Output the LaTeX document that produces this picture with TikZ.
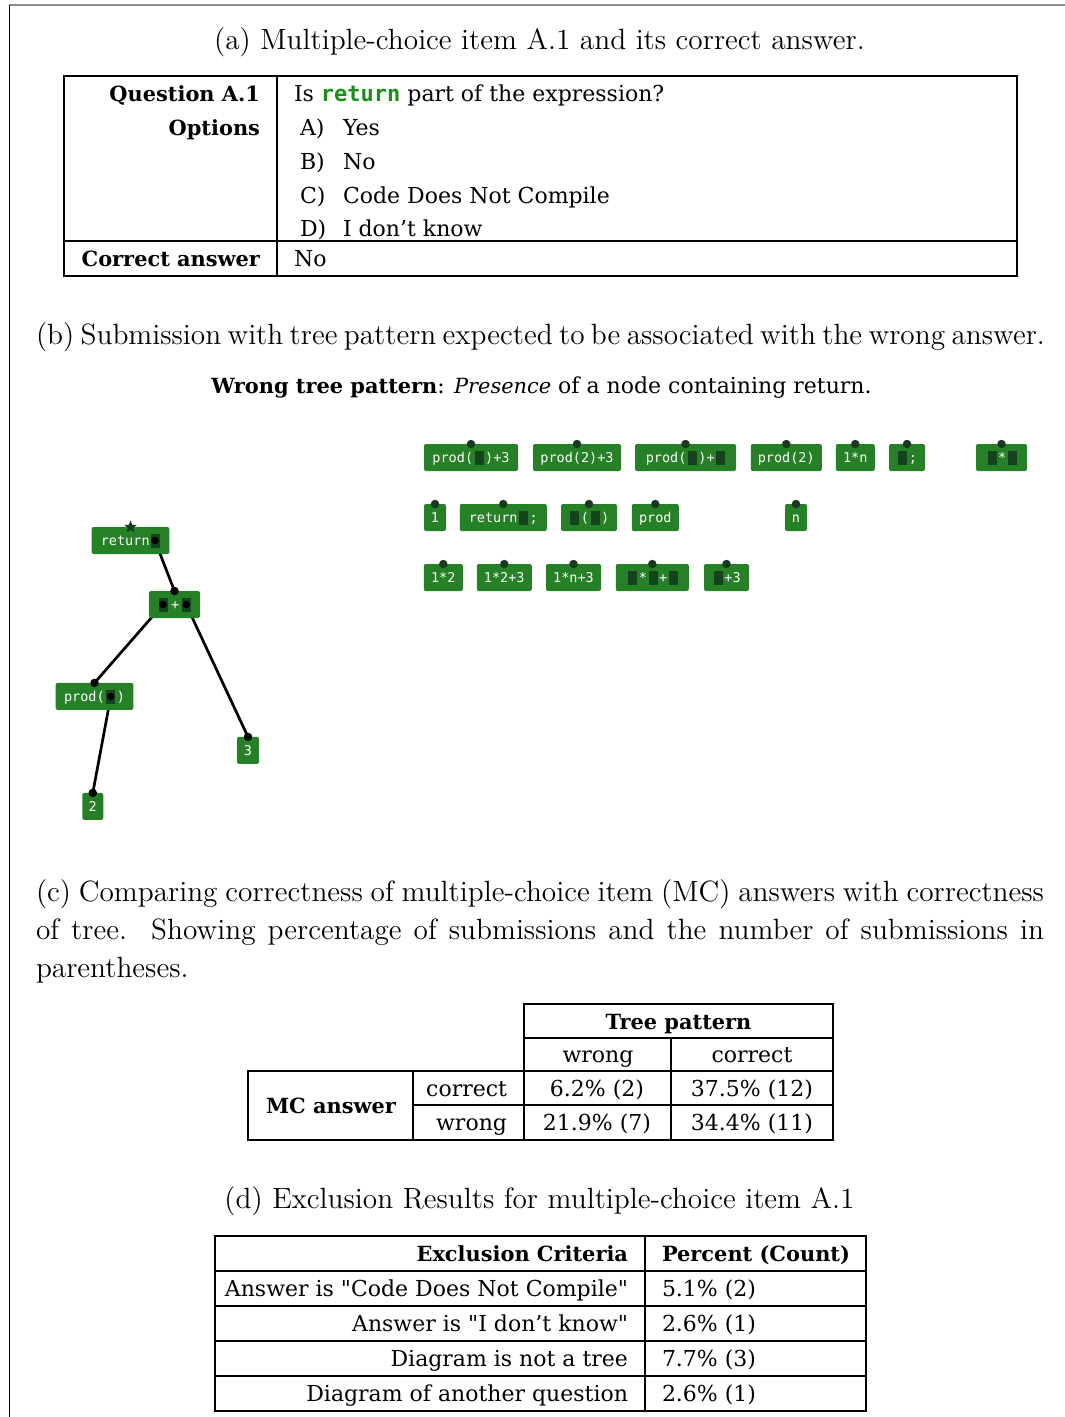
\documentclass[tikz,border=0pt]{standalone}
\usepackage{fontspec}
\setmainfont{DejaVu Serif}[BoldFeatures={Scale=0.95},ItalicFeatures={Scale=0.95}]
\newfontfamily\capfont{lmroman12-regular}[Extension=.otf]
\newfontfamily\codefont{DejaVu Sans Mono}
\usetikzlibrary{shapes.geometric}
\definecolor{blockgreen}{RGB}{38,129,38}
\definecolor{holegreen}{RGB}{21,66,31}
\definecolor{pindark}{RGB}{24,58,32}
\definecolor{kwgreen}{RGB}{22,145,22}
\definecolor{framegray}{RGB}{140,140,140}
\pgfdeclarelayer{background}
\pgfsetlayers{background,main}
% an empty slot inside a code block
\newcommand\codehole{\hspace{1.5pt}{\color{holegreen}\rule[-2.5pt]{9pt}{14pt}}\hspace{1.5pt}}
\begin{document}
\begin{tikzpicture}[x=1pt,y=-1pt,
  every node/.style={inner sep=0pt,outer sep=0pt},
  capt/.style={font=\capfont\fontsize{29.3}{38}\selectfont,anchor=base},
  body/.style={font=\fontsize{22}{26}\selectfont,anchor=base},
  block/.style={fill=blockgreen,rounded corners=2pt,minimum height=27pt,
    text=white,font=\codefont\fontsize{13.5}{16}\selectfont,
    text height=11.8pt,text depth=2pt},
  pin/.style={circle,fill=pindark,minimum size=8.5pt},
  treepin/.style={circle,fill=black,minimum size=8.5pt},
  slotdot/.style={circle,fill=black,minimum size=7.5pt},
  rule/.style={line width=1.3pt},
  edge/.style={line width=2.7pt,black},
]
\useasboundingbox (0,0) rectangle (1065,1417);

% page frame
\draw[framegray,line width=1.5pt] (9,5) -- (1065,5);
\draw[black,line width=1.6pt] (9.5,5) -- (9.5,1417);

% ---------- (a) question table ----------
\node[capt] (capA) at (539.5,49) {(a) Multiple-choice item A.1 and its correct answer.};
\draw[rule] (64,76) rectangle (1017,276);
\draw[rule] (277,76) -- (277,276);
\draw[rule] (64,241) -- (1017,241);
\node[body,anchor=base east] (qLbl) at (260,101) {\bfseries Question A.1};
\node[body,anchor=base east] (optLbl) at (260,135) {\bfseries Options};
\node[body,anchor=base east] (ansLbl) at (260,266) {\bfseries Correct answer};
\node[body,anchor=base west] (qTxt) at (294,101)
  {Is {\codefont\bfseries\color{kwgreen}return} part of the expression?};
\foreach \k/\yy/\opt in {A/135/Yes, B/169/No, C/203/Code Does Not Compile, D/236/I don’t know}{
  \node[body,anchor=base west] (opt\k) at (300,\yy) {\k)};
  \node[body,anchor=base west] (opt\k txt) at (343,\yy) {\opt};
}
\node[body,anchor=base west] (ansTxt) at (294,266) {No};

% ---------- (b) tree pattern ----------
\node[capt,anchor=base west] (capB) at (36,344)
  {\makebox[1008pt][s]{(b) Submission with tree pattern expected to be associated with the wrong answer.}};
\node[body] (pattern) at (541.5,393)
  {\textbf{Wrong tree pattern}: \textit{Presence} of a node containing return.};

% palette of code blocks
\foreach \n/\cx/\cy/\w/\t in {
  p1/471/457.5/94/{prod(\codehole)+3},
  p2/577/457.5/88/{prod(2)+3},
  p3/685.5/457.5/101/{prod(\codehole)+\codehole},
  p4/786.3/457.5/71/{prod(2)},
  p5/855.3/457.5/39/{1*n},
  p6/907/457.5/36/{\codehole;},
  p7/1001.5/457.5/51/{\codehole*\codehole},
  q1/435/517.5/22/{1},
  q2/503.3/517.5/87/{return\codehole;},
  q3/589/517.5/56/{\codehole(\codehole)},
  q4/655.3/517.5/47/{prod},
  q5/796/517.5/22/{n},
  r1/443.3/577.5/39/{1*2},
  r2/504.3/577.5/55/{1*2+3},
  r3/573.5/577.5/55/{1*n+3},
  r4/652.3/577.5/73/{\codehole*\codehole+\codehole},
  r5/726.5/577.5/45/{\codehole+3}}{
  \node[block,minimum width=\w pt] (\n) at (\cx,\cy) {\t};
  \node[pin] (\n-pin) at (\n.north) {};
}

% submitted tree
\node[block,minimum width=77.6pt] (tRet) at (130.5,540.5) {return\codehole};
\node[block,minimum width=51pt] (tAdd) at (174.5,604.5) {\codehole\kern1.5pt+\kern1.5pt\codehole};
\node[block,minimum width=77.6pt] (tProd) at (94.5,696.4) {prod(\codehole)};
\node[block,minimum width=22pt] (tThree) at (248,750.4) {3};
\node[block,minimum width=21pt] (tTwo) at (92.8,806.4) {2};

\node[star,star points=5,star point ratio=2.3,fill=pindark,minimum size=13pt] (tRoot) at (tRet.north) {};
\node[treepin] (tAdd-pin) at (tAdd.north) {};
\node[treepin] (tProd-pin) at (tProd.north) {};
\node[treepin] (tThree-pin) at (tThree.north) {};
\node[treepin] (tTwo-pin) at (tTwo.north) {};

\node[slotdot] (tRet-slot) at ([xshift=24.4pt]tRet.center) {};
\node[slotdot] (tAdd-slotL) at ([xshift=-11.6pt]tAdd.center) {};
\node[slotdot] (tAdd-slotR) at ([xshift=11.6pt]tAdd.center) {};
\node[slotdot] (tProd-slot) at ([xshift=16.3pt]tProd.center) {};

\begin{pgfonlayer}{background}
  \draw[edge] (tRet-slot.center) -- (tAdd-pin.center);
  \draw[edge] (tAdd-slotL.center) -- (tProd-pin.center);
  \draw[edge] (tAdd-slotR.center) -- (tThree-pin.center);
  \draw[edge] (tProd-slot.center) -- (tTwo-pin.center);
\end{pgfonlayer}

% ---------- (c) comparison table ----------
\node[capt,anchor=base west] (capC1) at (36,901)
  {\makebox[1008pt][s]{(c) Comparing correctness of multiple-choice item (MC) answers with correctness}};
\node[capt,anchor=base west] (capC2) at (36,939)
  {\makebox[1008pt][s]{of tree.\ \ Showing percentage of submissions and the number of submissions in}};
\node[capt,anchor=base west] (capC3) at (36,977) {parentheses.};

\draw[rule] (524,1004) rectangle (833,1140);
\draw[rule] (524,1038) -- (833,1038);
\draw[rule] (248,1071) rectangle (833,1140);
\draw[rule] (413,1071) -- (413,1140);
\draw[rule] (671,1038) -- (671,1140);
\draw[rule] (413,1105) -- (833,1105);
\node[body] (tpHead) at (678.5,1029) {\bfseries Tree pattern};
\node[body] (tpWrong) at (598,1062) {wrong};
\node[body] (tpCorrect) at (752,1062) {correct};
\node[body] (mcHead) at (331,1113) {\bfseries MC answer};
\node[body,anchor=base east] (mcCorrect) at (507,1096) {correct};
\node[body,anchor=base east] (mcWrong) at (507,1130) {wrong};
\node[body] (cw) at (597,1096) {6.2\% (2)};
\node[body] (cc) at (752,1096) {37.5\% (12)};
\node[body] (ww) at (597,1130) {21.9\% (7)};
\node[body] (wc) at (752,1130) {34.4\% (11)};

% ---------- (d) exclusion table ----------
\node[capt] (capD) at (539.5,1208) {(d) Exclusion Results for multiple-choice item A.1};
\draw[rule] (215,1236) rectangle (866,1411);
\draw[rule] (645,1236) -- (645,1411);
\foreach \yy in {1271,1306,1341,1376}{\draw[rule] (215,\yy) -- (866,\yy);}
\node[body,anchor=base east] (exHead) at (628,1261) {\bfseries Exclusion Criteria};
\node[body,anchor=base west] (pcHead) at (662,1261) {\bfseries Percent (Count)};
\foreach \i/\yy/\crit/\val in {
  1/1296/{Answer is \textquotedbl Code Does Not Compile\textquotedbl}/{5.1\% (2)},
  2/1331/{Answer is \textquotedbl I don’t know\textquotedbl}/{2.6\% (1)},
  3/1366/{Diagram is not a tree}/{7.7\% (3)},
  4/1401/{Diagram of another question}/{2.6\% (1)}}{
  \node[body,anchor=base east] (ex\i) at (628,\yy) {\crit};
  \node[body,anchor=base west] (pc\i) at (662,\yy) {\val};
}
\end{tikzpicture}
\end{document}
